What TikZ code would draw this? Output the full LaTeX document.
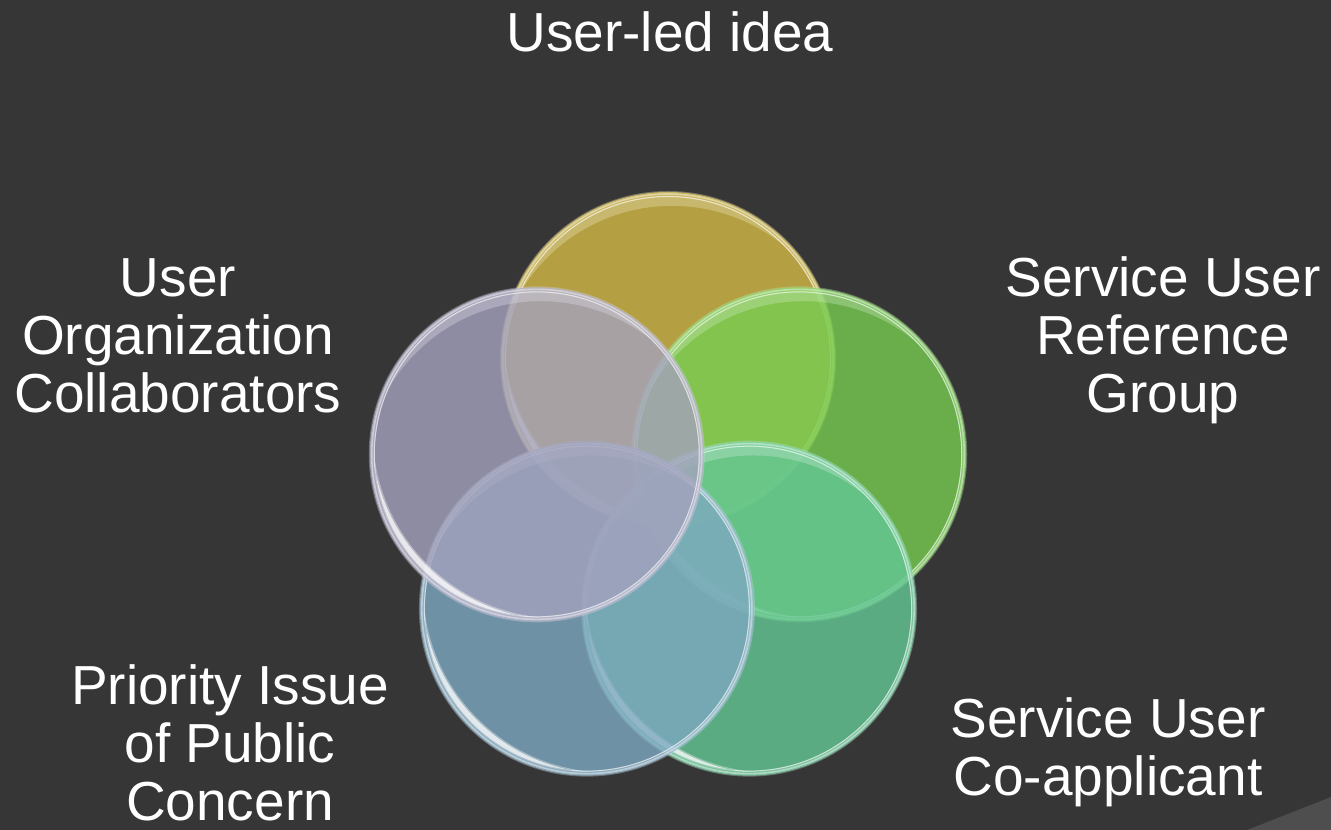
\documentclass[tikz,border=0pt]{standalone}
\usepackage{fontspec}
\setmainfont{Liberation Sans}
\usetikzlibrary{calc}
\definecolor{bg}{HTML}{363636}
\definecolor{cYel}{RGB}{212,187,69}
\definecolor{cGrn}{RGB}{118,205,80}
\definecolor{cSea}{RGB}{99,199,149}
\definecolor{cBlu}{RGB}{126,168,193}
\definecolor{cLav}{RGB}{164,162,189}
\definecolor{corner}{HTML}{4E4E4E}
\newcommand\glassdisc[2]{%
  \fill[#2, fill opacity=0.8] (#1) circle[radius=167];
  \begin{scope}
    \clip (#1) circle[radius=163];
    \fill[#2!35!white, fill opacity=0.35, even odd rule] (#1) circle[radius=163] ($(#1)+(-80:24)$) circle[radius=176.8];
    \fill[white, fill opacity=0.35, even odd rule] (#1) circle[radius=164] ($(#1)+(45:30)$) circle[radius=185];
    \fill[white, fill opacity=0.7, even odd rule] (#1) circle[radius=162] ($(#1)+(45:30)$) circle[radius=186.6];
  \end{scope}
  \draw[#2!45!white, draw opacity=0.35, line width=4.5pt] (#1) circle[radius=165];
  \draw[#2!30!white, draw opacity=0.6, line width=1.2pt] (#1) circle[radius=165];
}
\tikzset{lbl/.style={text=white, font=\fontsize{41.25}{43.5}\selectfont, align=center, anchor=base, inner sep=0pt}}
\begin{document}
\begin{tikzpicture}[x=0.75pt,y=0.75pt]
\useasboundingbox (0,0) rectangle (1331,830);
\fill[bg] (0,0) rectangle (1331,830);
\fill[corner] (1247,0) -- (1331,33) -- (1331,0) -- cycle;
\coordinate (ctr) at (668,333);
\coordinate (Y) at ($(ctr)+(90:138)$);
\coordinate (G) at ($(ctr)+(18:138)$);
\coordinate (S) at ($(ctr)+(-54:138)$);
\coordinate (B) at ($(ctr)+(-126:138)$);
\coordinate (L) at ($(ctr)+(162:138)$);
\glassdisc{Y}{cYel}
\glassdisc{G}{cGrn}
\glassdisc{S}{cSea}
\glassdisc{B}{cBlu}
\glassdisc{L}{cLav}
\node[lbl] (t1) at (670,778) {User-led idea};
\node[lbl] (t2) at (178,417) {User\\Organization\\Collaborators};
\node[lbl] (t3) at (1163,417) {Service User\\Reference\\Group};
\node[lbl] (t4) at (230,9) {Priority Issue\\of Public\\Concern};
\node[lbl] (t5) at (1108,34) {Service User\\Co-applicant};
\end{tikzpicture}
\end{document}
